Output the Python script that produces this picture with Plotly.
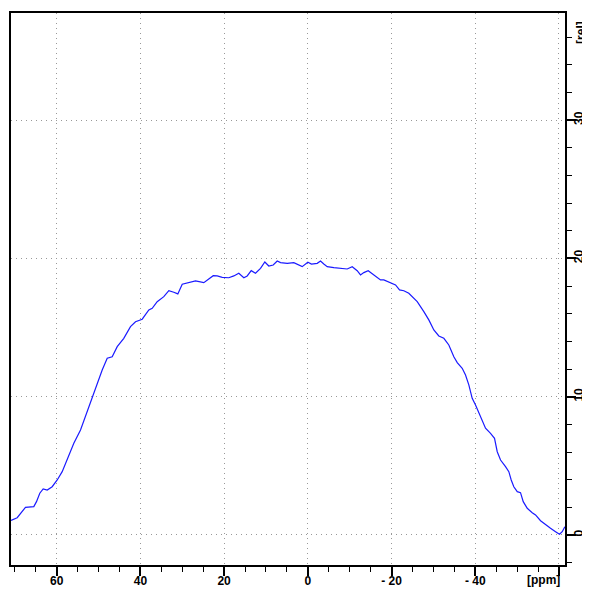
import plotly.graph_objects as go

# chemical shift (ppm) and relative intensity
ppm = [70.92, 69.44, 67.46, 65.47, 64.83, 64.04, 63.23, 62.27, 61.08, 59.88,
       58.69, 57.49, 55.91, 54.31, 53.12, 52.33, 51.52, 50.32, 49.13, 47.93,
       46.74, 45.54, 43.97, 42.37, 41.17, 39.57, 37.99, 37.18, 35.99, 34.41,
       33.21, 32.02, 31.06, 30.01, 28.82, 26.83, 24.85, 22.60, 21.65, 20.45,
       18.88, 17.68, 16.49, 15.29, 14.48, 13.52, 12.50, 11.30, 10.27, 9.32,
       8.27, 7.31, 6.52, 4.92, 3.35, 2.15, 1.34, 0.00, -0.88, -2.25,
       -3.03, -3.82, -4.64, -6.21, -7.81, -9.41, -10.61, -11.80, -12.59, -13.38,
       -14.43, -15.39, -16.58, -17.37, -18.16, -19.76, -20.96, -21.91, -22.94, -24.13,
       -24.95, -26.14, -27.72, -28.91, -30.11, -31.30, -32.50, -33.69, -34.89, -35.70,
       -36.89, -37.68, -38.47, -39.28, -40.07, -41.67, -42.46, -43.66, -44.61, -45.26,
       -46.05, -47.24, -48.03, -48.60, -49.22, -50.04, -50.82, -51.47, -52.43, -53.62,
       -54.41, -55.61, -56.80, -57.99, -59.19, -60.14, -60.79, -61.41]
intensity = [1.05, 1.25, 2.00, 2.05, 2.41, 3.02, 3.33, 3.25, 3.49, 3.98,
             4.58, 5.42, 6.63, 7.59, 8.60, 9.18, 9.98, 10.85, 11.93, 12.78,
             12.89, 13.62, 14.22, 15.06, 15.42, 15.60, 16.27, 16.39, 16.87, 17.23,
             17.66, 17.55, 17.43, 18.13, 18.20, 18.37, 18.24, 18.75, 18.73, 18.63,
             18.60, 18.73, 18.92, 18.60, 18.73, 19.11, 18.92, 19.28, 19.74, 19.45,
             19.52, 19.81, 19.69, 19.64, 19.69, 19.52, 19.40, 19.72, 19.59, 19.64,
             19.81, 19.59, 19.40, 19.33, 19.28, 19.23, 19.40, 19.11, 18.80, 18.97,
             19.11, 18.87, 18.63, 18.44, 18.44, 18.24, 18.08, 17.72, 17.66, 17.48,
             17.23, 16.87, 16.15, 15.55, 14.82, 14.39, 14.22, 13.74, 12.89, 12.46,
             12.05, 11.57, 10.85, 9.88, 9.40, 8.32, 7.72, 7.35, 6.99, 6.02,
             5.42, 4.94, 4.58, 3.98, 3.49, 3.13, 3.06, 2.41, 1.93, 1.61,
             1.45, 1.03, 0.72, 0.48, 0.24, 0.05, 0.24, 0.60]

x_tickvals = [60, 40, 20, 0, -20, -40, -60]
x_ticktext = ["60", "40", "20", "0", "- 20", "- 40", ""]
y_tickvals = [0, 10, 20, 30]
y_ticktext = ["0", "10", "20", "30"]

fig = go.Figure()
fig.add_trace(go.Scatter(x=ppm, y=intensity, mode="lines",
                         line=dict(color="#1a1aff", width=1.2),
                         hoverinfo="skip", showlegend=False))

tickfont = dict(family="Liberation Sans, Arial, sans-serif", size=12,
                color="black", weight="bold")
grid_dash = "1px,4px"

fig.update_layout(
    width=590, height=590,
    margin=dict(l=2.5, r=33, t=5, b=33, autoexpand=False),
    paper_bgcolor="white", plot_bgcolor="white",
    xaxis=dict(range=[70.92, -61.45], tickmode="array", automargin=False,
               tickvals=x_tickvals, ticktext=x_ticktext,
               ticks="outside", ticklen=9, tickwidth=1.5, tickcolor="black",
               tickfont=tickfont, ticklabelstandoff=-5,
               minor=dict(tickmode="linear", tick0=0, dtick=5, ticks="outside",
                          ticklen=5, tickwidth=1, tickcolor="black",
                          showgrid=False),
               showgrid=True, gridcolor="#999999", griddash=grid_dash, gridwidth=1,
               zeroline=False, showline=True, linecolor="black",
               linewidth=1.5, mirror=True),
    yaxis=dict(range=[-2.17, 37.74], side="right", tickmode="array",
               automargin=False,
               tickvals=y_tickvals, ticktext=y_ticktext, tickangle=-90,
               ticklabelstandoff=-7,
               ticks="outside", ticklen=9, tickwidth=1.5, tickcolor="black",
               tickfont=tickfont,
               minor=dict(tickmode="linear", tick0=0, dtick=2, ticks="outside",
                          ticklen=5, tickwidth=1, tickcolor="black",
                          showgrid=False),
               showgrid=True, gridcolor="#999999", griddash=grid_dash, gridwidth=1,
               zeroline=False, showline=True, linecolor="black",
               linewidth=1.5, mirror=True),
    annotations=[
        dict(text="[ppm]", x=-56.3, xref="x", y=0, yref="paper",
             yanchor="middle", yshift=-15, showarrow=False, font=tickfont),
        dict(text="[rel]", x=1, xref="paper", xanchor="center", xshift=16,
             y=36.3, yref="y", showarrow=False, textangle=-90, font=tickfont),
    ],
)

fig.write_html("out.html")
